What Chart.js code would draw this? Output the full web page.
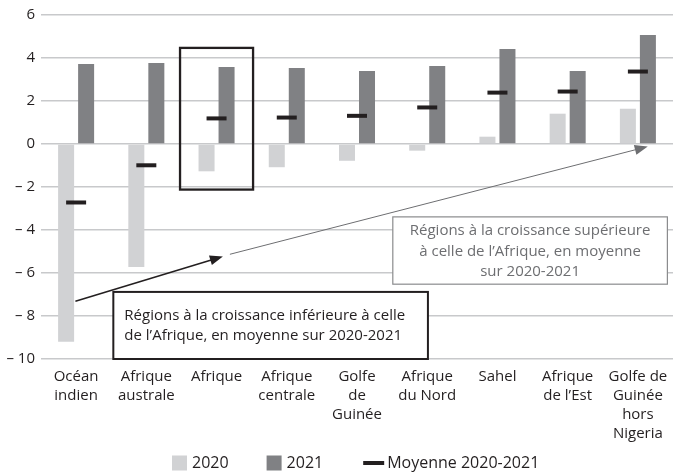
<!DOCTYPE html>
<html>
<head>
<meta charset="utf-8">
<script src="https://cdn.jsdelivr.net/npm/chart.js@4"></script>
<style>
  html, body { margin: 0; padding: 0; background: #fff; overflow: hidden; }
  #wrap { width: 673px; height: 473px; }
  canvas { display: block; }
</style>
</head>
<body>
<div id="wrap"><canvas id="grafico"></canvas></div>
<script>
const regions = [
  ['Océan', 'indien'],
  ['Afrique', 'australe'],
  'Afrique',
  ['Afrique', 'centrale'],
  ['Golfe', 'de', 'Guinée'],
  ['Afrique', 'du Nord'],
  'Sahel',
  ['Afrique', 'de l’Est'],
  ['Golfe de', 'Guinée', 'hors', 'Nigeria']
];
const croissance2020 = [-9.2, -5.72, -1.27, -1.08, -0.78, -0.31, 0.34, 1.41, 1.64];
const croissance2021 = [3.72, 3.77, 3.58, 3.54, 3.40, 3.63, 4.42, 3.40, 5.07];
const moyenne = [-2.72, -0.99, 1.19, 1.23, 1.31, 1.70, 2.39, 2.44, 3.37];
const yTicks = [6, 4, 2, 0, -2, -4, -6, -8, -10];

const FONT = '"Open Sans", "Noto Sans", sans-serif';
const txtBas = ['Régions à la croissance inférieure à celle', 'de l’Afrique, en moyenne sur 2020-2021'];
const txtHaut = ['Régions à la croissance supérieure', 'à celle de l’Afrique, en moyenne', 'sur 2020-2021'];

function fleche(ctx, x1, y1, x2, y2, color, lw, len, w) {
  const a = Math.atan2(y2 - y1, x2 - x1);
  ctx.save();
  ctx.strokeStyle = color;
  ctx.fillStyle = color;
  ctx.lineWidth = lw;
  ctx.beginPath();
  ctx.moveTo(x1, y1);
  ctx.lineTo(x2 - Math.cos(a) * len * 0.8, y2 - Math.sin(a) * len * 0.8);
  ctx.stroke();
  ctx.beginPath();
  ctx.moveTo(x2, y2);
  ctx.lineTo(x2 - Math.cos(a) * len - Math.sin(a) * w / 2, y2 - Math.sin(a) * len + Math.cos(a) * w / 2);
  ctx.lineTo(x2 - Math.cos(a) * len + Math.sin(a) * w / 2, y2 - Math.sin(a) * len - Math.cos(a) * w / 2);
  ctx.closePath();
  ctx.fill();
  ctx.restore();
}

// cadre autour de "Afrique", boites de texte et fleches
const annotations = {
  id: 'annotations',
  afterDatasetsDraw(chart) {
    const ctx = chart.ctx;
    const x = chart.scales.x, y = chart.scales.y;
    const px = v => x.getPixelForValue(v);
    const py = v => y.getPixelForValue(v);
    ctx.save();

    // cadre Afrique
    ctx.strokeStyle = '#231f20';
    ctx.lineWidth = 2.3;
    ctx.strokeRect(px(1.48), py(4.47), px(2.52) - px(1.48), py(-2.12) - py(4.47));

    // fleches
    fleche(ctx, px(-0.01), py(-7.31), px(2.09), py(-5.23), '#231f20', 1.6, 13, 10);
    fleche(ctx, px(2.19), py(-5.13), px(8.14), py(-0.12), '#6d6e71', 1, 13, 10);

    // boite basse
    let l = px(0.53), t = py(-6.88), r = px(5.01), b = py(-10);
    ctx.fillStyle = '#fff';
    ctx.fillRect(l, t, r - l, b - t);
    ctx.strokeStyle = '#231f20';
    ctx.lineWidth = 2;
    ctx.strokeRect(l, t, r - l, b - t);
    ctx.font = '15px ' + FONT;
    ctx.fillStyle = '#231f20';
    ctx.textAlign = 'left';
    ctx.textBaseline = 'middle';
    txtBas.forEach((s, i) => ctx.fillText(s, l + 11, t + 24 + i * 19.5));

    // boite haute
    l = px(4.51); t = py(-3.39); r = px(8.42); b = py(-6.52);
    ctx.fillStyle = '#fff';
    ctx.fillRect(l, t, r - l, b - t);
    ctx.strokeStyle = '#8a8b8d';
    ctx.lineWidth = 1.2;
    ctx.strokeRect(l, t, r - l, b - t);
    ctx.fillStyle = '#6d6e71';
    ctx.textAlign = 'center';
    txtHaut.forEach((s, i) => ctx.fillText(s, (l + r) / 2, t + 14 + i * 20.5));

    ctx.restore();
  }
};

// legende dessinee a la main sous le graphique
const legende = {
  id: 'legende',
  afterDraw(chart) {
    const ctx = chart.ctx;
    const yc = 463;
    let cx = 172;
    ctx.save();
    ctx.font = '16px ' + FONT;
    ctx.textBaseline = 'middle';
    ctx.textAlign = 'left';
    chart.data.datasets.forEach(d => {
      let tx;
      if (d.type === 'line') {
        ctx.strokeStyle = d.pointBorderColor;
        ctx.lineWidth = 4;
        ctx.beginPath();
        ctx.moveTo(cx + 2, yc);
        ctx.lineTo(cx + 23, yc);
        ctx.stroke();
        tx = cx + 26;
      } else {
        ctx.fillStyle = d.backgroundColor;
        ctx.fillRect(cx, yc - 7.5, 15, 15);
        tx = cx + 20;
      }
      ctx.fillStyle = '#231f20';
      ctx.fillText(d.label, tx, yc);
      cx = tx + ctx.measureText(d.label).width + 38;
    });
    ctx.restore();
  }
};

Chart.defaults.font.family = FONT;
Chart.defaults.color = '#231f20';

const grafico = document.getElementById('grafico').getContext('2d');
const myChart = new Chart(grafico, {
  type: 'bar',
  data: {
    labels: regions,
    datasets: [{
      label: '2020',
      data: croissance2020,
      backgroundColor: '#d1d2d4',
      borderWidth: 0,
      categoryPercentage: 0.57,
      barPercentage: 0.8,
      order: 1
    }, {
      label: '2021',
      data: croissance2021,
      backgroundColor: '#808184',
      borderWidth: 0,
      categoryPercentage: 0.57,
      barPercentage: 0.8,
      order: 1
    }, {
      type: 'line',
      label: 'Moyenne 2020-2021',
      data: moyenne,
      showLine: false,
      pointStyle: 'line',
      pointRadius: 10,
      pointHoverRadius: 10,
      pointBorderWidth: 4,
      pointBorderColor: '#231f20',
      borderColor: '#231f20',
      backgroundColor: '#231f20',
      order: 0
    }]
  },
  options: {
    responsive: true,
    maintainAspectRatio: false,
    animation: false,
    layout: { autoPadding: false, padding: { top: 14, left: 0, right: 0, bottom: 28 } },
    scales: {
      x: {
        grid: { display: false, drawTicks: false },
        border: { display: false },
        ticks: { font: { size: 15, lineHeight: 1.27 }, padding: 8, maxRotation: 0, autoSkip: false },
        afterFit: s => { s.height = 86; s.paddingLeft = 0; s.paddingRight = 0; }
      },
      y: {
        min: -10,
        max: 6,
        afterBuildTicks: s => { s.ticks = yTicks.map(v => ({ value: v })); },
        grid: { color: '#c8c9cb', lineWidth: 1.5, drawTicks: false },
        border: { display: false },
        ticks: {
          font: { size: 15 },
          padding: 6,
          callback: v => v < 0 ? '– ' + Math.abs(v) : String(v)
        },
        afterFit: s => { s.width = 41; }
      }
    },
    plugins: {
      tooltip: { enabled: false },
      legend: { display: false }
    }
  },
  plugins: [annotations, legende]
});
</script>
</body>
</html>
